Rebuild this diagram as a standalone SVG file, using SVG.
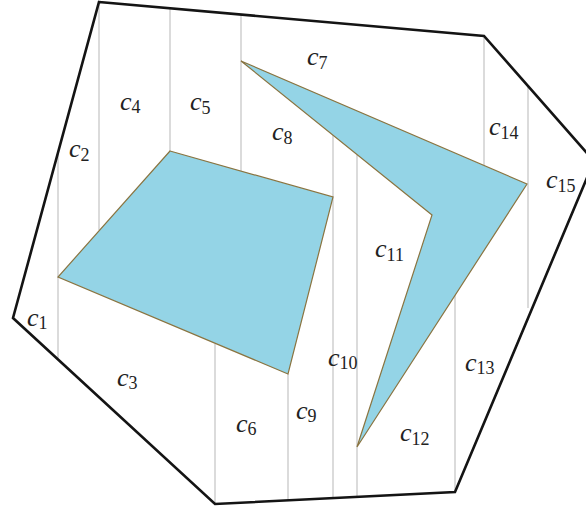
<svg xmlns="http://www.w3.org/2000/svg" width="586" height="514" viewBox="0 0 586 514">
<style>
.bg{fill:#ffffff}
.v{stroke:#cfcfcf;stroke-width:1.5;fill:none}
.outer{fill:none;stroke:#141414;stroke-width:2.6;stroke-linejoin:miter}
.obs{fill:#94d4e6;stroke:#8a7440;stroke-width:1.2;stroke-linejoin:miter}
.lbl{font-family:"Liberation Serif","DejaVu Serif",serif;font-style:italic;font-size:26px;fill:#222}
.sub{font-style:normal;font-size:18px}
</style>
<rect class="bg" x="0" y="0" width="586" height="514"/>
<g id="connectors">
<line class="v" x1="58" y1="152" x2="58" y2="358"/>
<line class="v" x1="99" y1="2" x2="99" y2="230"/>
<line class="v" x1="170" y1="8" x2="170" y2="151"/>
<line class="v" x1="241" y1="14" x2="241" y2="171"/>
<line class="v" x1="215" y1="344" x2="215" y2="504"/>
<line class="v" x1="288" y1="374" x2="288" y2="500"/>
<line class="v" x1="333" y1="135" x2="333" y2="498"/>
<line class="v" x1="357" y1="155" x2="357" y2="497"/>
<line class="v" x1="455" y1="294" x2="455" y2="492"/>
<line class="v" x1="484" y1="36" x2="484" y2="165"/>
<line class="v" x1="528" y1="86" x2="528" y2="308"/>
</g>
<g id="boundary">
<polygon class="outer" points="99,2 484,36 594,161 455,492 215,504 13,318"/>
</g>
<g id="obstacle1">
<polygon class="obs" points="170,151 333,197 288,374 58,277"/>
</g>
<g id="obstacle2">
<polygon class="obs" points="241,61 527,184 357,447 432,215"/>
</g>
<g id="labels">
<g id="c1"><text class="lbl" x="27" y="326">c<tspan class="sub" dy="3">1</tspan></text></g>
<g id="c2"><text class="lbl" x="69" y="157">c<tspan class="sub" dy="4">2</tspan></text></g>
<g id="c3"><text class="lbl" x="117" y="386">c<tspan class="sub" dy="3">3</tspan></text></g>
<g id="c4"><text class="lbl" x="120" y="110">c<tspan class="sub" dy="3">4</tspan></text></g>
<g id="c5"><text class="lbl" x="190" y="110">c<tspan class="sub" dy="4">5</tspan></text></g>
<g id="c6"><text class="lbl" x="236" y="432">c<tspan class="sub" dy="3">6</tspan></text></g>
<g id="c7"><text class="lbl" x="307" y="65">c<tspan class="sub" dy="4">7</tspan></text></g>
<g id="c8"><text class="lbl" x="272" y="140">c<tspan class="sub" dy="4">8</tspan></text></g>
<g id="c9"><text class="lbl" x="296" y="419">c<tspan class="sub" dy="3">9</tspan></text></g>
<g id="c10"><text class="lbl" x="328" y="366">c<tspan class="sub" dy="3">10</tspan></text></g>
<g id="c11"><text class="lbl" x="375" y="257">c<tspan class="sub" dy="4">11</tspan></text></g>
<g id="c12"><text class="lbl" x="400" y="441">c<tspan class="sub" dy="4">12</tspan></text></g>
<g id="c13"><text class="lbl" x="465" y="371">c<tspan class="sub" dy="3">13</tspan></text></g>
<g id="c14"><text class="lbl" x="489" y="135">c<tspan class="sub" dy="4">14</tspan></text></g>
<g id="c15"><text class="lbl" x="546" y="188">c<tspan class="sub" dy="4">15</tspan></text></g>
</g>
</svg>
